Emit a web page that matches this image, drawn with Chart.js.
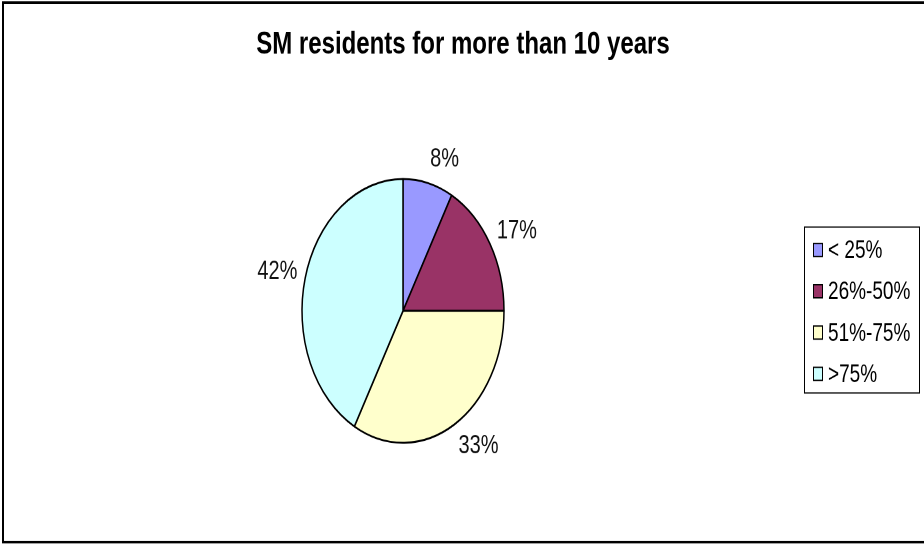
<!DOCTYPE html>
<html>
<head>
<meta charset="utf-8">
<script src="https://cdn.jsdelivr.net/npm/chart.js@4/dist/chart.umd.min.js"></script>
<style>
  html, body { margin: 0; padding: 0; background: #ffffff; overflow: hidden; }
  #wrap { width: 924px; height: 546px; position: relative; overflow: hidden; }
  /* the whole chart is drawn on a 924x418 canvas and stretched vertically to 546px */
  #c { position: absolute; left: 0; top: 0; transform: scaleY(1.3062); transform-origin: 0 0; }
</style>
</head>
<body>
<div id="wrap"><canvas id="c" width="924" height="418"></canvas></div>
<script>
const chartTitle = 'SM residents for more than 10 years';
const categories = ['< 25%', '26%-50%', '51%-75%', '>75%'];
const shares = [8, 17, 33, 42];
const sliceColors = ['#9999FF', '#993366', '#FFFFCC', '#CCFFFF'];

const FONT = '"Liberation Sans", Arial, Helvetica, sans-serif';

// outer frame and the bold title
const framePlugin = {
  id: 'frame',
  beforeDraw(chart) {
    const ctx = chart.ctx;
    ctx.save();
    ctx.fillStyle = '#ffffff';
    ctx.fillRect(0, 0, chart.width, chart.height);
    ctx.strokeStyle = '#000000';
    ctx.lineWidth = 2;
    ctx.strokeRect(3, 2, chart.width + 20, 413);
    ctx.fillStyle = '#000000';
    ctx.font = 'bold 24px ' + FONT;
    ctx.textAlign = 'center';
    ctx.textBaseline = 'middle';
    ctx.fillText(chartTitle, 463, 34.5);
    ctx.restore();
  }
};

// percentage labels just outside each slice
const sliceLabels = {
  id: 'sliceLabels',
  afterDatasetsDraw(chart) {
    const ctx = chart.ctx;
    const meta = chart.getDatasetMeta(0);
    const values = chart.data.datasets[0].data;
    ctx.save();
    ctx.font = '20px ' + FONT;
    ctx.fillStyle = '#111111';
    ctx.textAlign = 'center';
    ctx.textBaseline = 'middle';
    meta.data.forEach((arc, i) => {
      const p = arc.getProps(['x', 'y', 'startAngle', 'endAngle', 'outerRadius'], true);
      const mid = (p.startAngle + p.endAngle) / 2;
      const cx = Math.cos(mid), sy = Math.sin(mid);
      const text = values[i] + '%';
      const w = ctx.measureText(text).width;
      const x = p.x + (p.outerRadius + 8) * cx + Math.sign(cx) * w / 2;
      const y = p.y + (p.outerRadius + 19) * sy;
      ctx.fillText(text, x, y);
    });
    ctx.restore();
  }
};

// boxed legend on the right
const boxLegend = {
  id: 'boxLegend',
  afterDraw(chart) {
    const ctx = chart.ctx;
    const labels = chart.data.labels;
    const colors = chart.data.datasets[0].backgroundColor;
    ctx.save();
    ctx.strokeStyle = '#000000';
    ctx.lineWidth = 1;
    ctx.strokeRect(804.5, 173.8, 115, 127);
    ctx.font = '19px ' + FONT;
    ctx.textAlign = 'left';
    ctx.textBaseline = 'middle';
    labels.forEach((lab, i) => {
      const y = 191.4 + i * 31.6;
      ctx.fillStyle = colors[i];
      ctx.fillRect(813.5, y - 5, 9, 10);
      ctx.strokeStyle = '#000000';
      ctx.strokeRect(813.5, y - 5, 9, 10);
      ctx.fillStyle = '#000000';
      ctx.fillText(lab, 828, y + 1);
    });
    ctx.restore();
  }
};

new Chart(document.getElementById('c'), {
  type: 'pie',
  data: {
    labels: categories,
    datasets: [{
      data: shares,
      backgroundColor: sliceColors,
      borderColor: '#000000',
      borderWidth: 1.5
    }]
  },
  options: {
    responsive: false,
    animation: false,
    devicePixelRatio: 2,
    radius: 101,
    layout: { padding: { left: 302, right: 420, top: 137, bottom: 79 } },
    plugins: {
      legend: { display: false },
      title: { display: false },
      tooltip: { enabled: false }
    }
  },
  plugins: [framePlugin, sliceLabels, boxLegend]
});
</script>
</body>
</html>
